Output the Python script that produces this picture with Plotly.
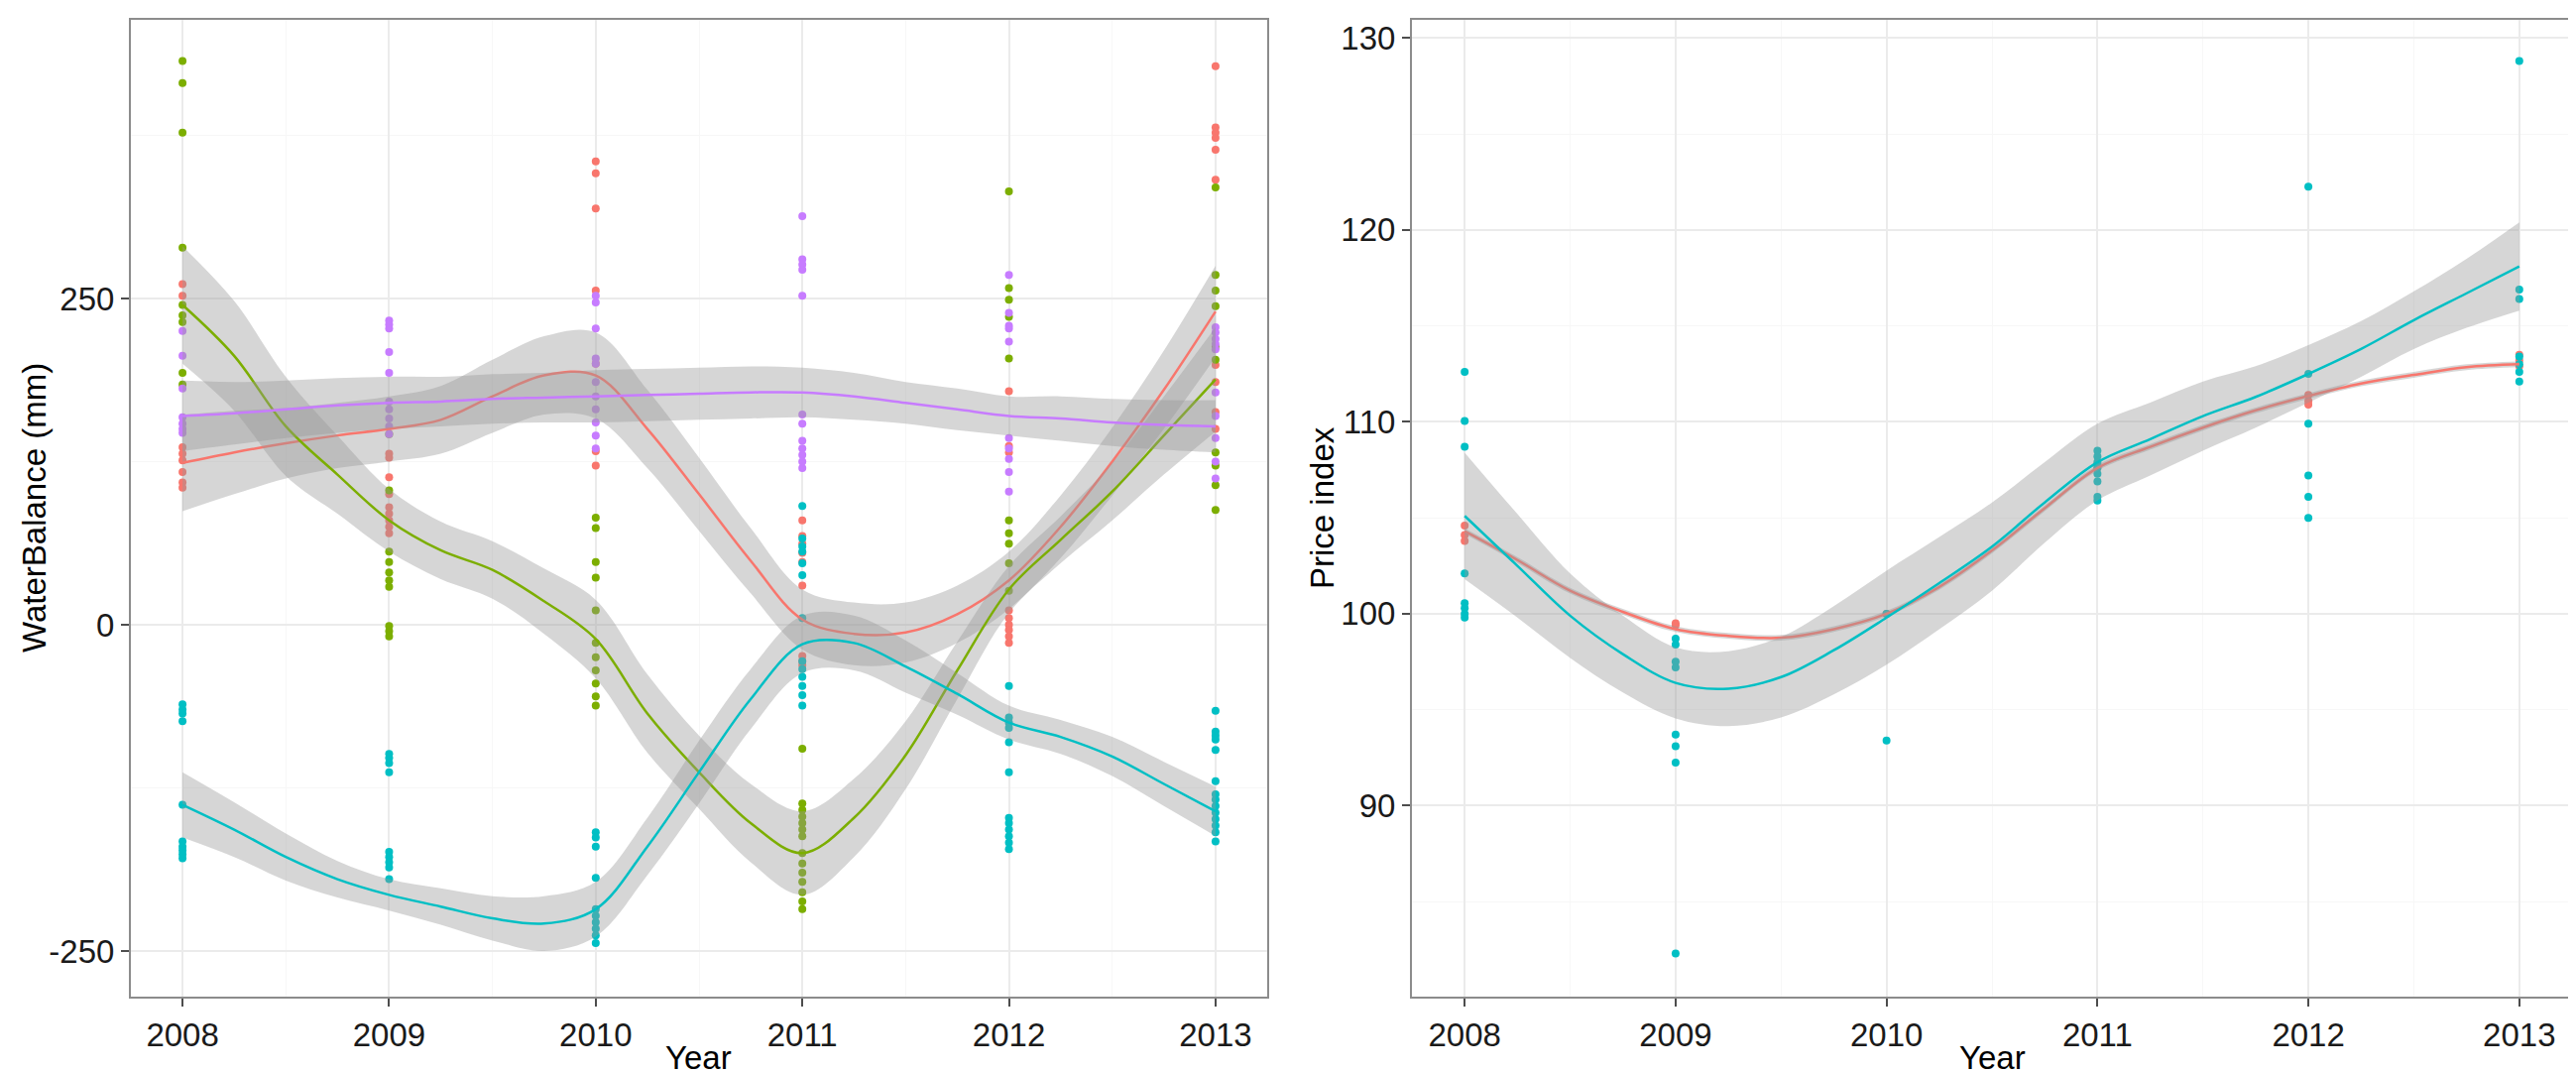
import plotly.graph_objects as go

W, H = 2598, 1081
FONT = "Liberation Sans, Arial, sans-serif"

years = [2008, 2009, 2010, 2011, 2012, 2013]
year_labels = ["2008", "2009", "2010", "2011", "2012", "2013"]

# ---- left panel: water balance observations (mm), one list per year ----
wb_red = [
    [261, 252, 136, 131, 126, 117, 109, 105],
    [131, 128, 113, 100, 90, 85, 80, 75, 70],
    [355, 346, 319, 256, 200, 133, 122],
    [80, 68, 62, 55, 48, 30, -24, -28, -31],
    [179, 137, 132, 11, 5, 0, -4, -9, -14],
    [428, 381, 377, 373, 364, 341, 199, 186, 163, 150],
]
wb_green = [
    [432, 415, 377, 289, 245, 237, 232, 193, 184],
    [146, 103, 56, 48, 40, 34, 29, -1, -5, -9],
    [82, 74, 48, 36, 11, -14, -25, -35, -45, -55, -62],
    [-95, -137, -142, -147, -152, -157, -162, -175, -183, -190, -197, -205, -212, -218],
    [332, 258, 249, 236, 204, 80, 70, 62, 47, 26],
    [335, 268, 256, 244, 213, 203, 132, 122, 107, 88],
]
wb_cyan = [
    [-61, -65, -68, -74, -138, -166, -170, -173, -176, -179],
    [-99, -102, -106, -113, -174, -178, -182, -186, -195],
    [-159, -163, -170, -194, -218, -223, -228, -233, -238, -244],
    [91, 66, 60, 56, 47, 38, 5, -28, -34, -40, -47, -54, -62],
    [-47, -71, -75, -79, -90, -113, -148, -152, -157, -162, -167, -172],
    [-66, -82, -85, -88, -96, -120, -130, -134, -139, -144, -149, -154, -159, -166],
]
wb_purple = [
    [225, 206, 181, 159, 154, 150, 147],
    [233, 230, 227, 209, 193, 171, 165, 158, 152, 146],
    [252, 247, 227, 204, 200, 186, 175, 165, 155, 145, 135],
    [313, 280, 276, 272, 252, 161, 154, 141, 135, 130, 125, 120],
    [268, 239, 229, 227, 217, 143, 135, 127, 117, 102],
    [228, 224, 219, 215, 211, 178, 160, 143, 125, 112],
]

# loess fits (value, lower, upper)
smooth_x = [2008, 2008.25, 2008.5, 2008.75, 2009, 2009.25, 2009.5, 2009.75, 2010, 2010.25,
            2010.5, 2010.75, 2011, 2011.25, 2011.5, 2011.75, 2012, 2012.25, 2012.5, 2012.75, 2013]

wb_red_fit = [124, 132, 139, 145, 150, 157, 175, 191, 191, 150, 100, 49, 4, -7, -6, 8, 34, 75, 125, 180, 240]
wb_red_lo = [87, 100, 112, 120, 125, 131, 147, 161, 158, 120, 72, 24, -19, -31, -29, -14, 12, 51, 99, 150, 205]
wb_red_hi = [161, 164, 166, 170, 175, 183, 203, 221, 224, 180, 128, 74, 27, 17, 17, 30, 56, 99, 151, 210, 275]

wb_green_fit = [245, 206, 152, 115, 80, 57, 42, 18, -11, -68, -113, -152, -175, -148, -100, -35, 27, 65, 102, 145, 188]
wb_green_lo = [200, 164, 114, 85, 56, 35, 20, -7, -41, -98, -141, -182, -207, -178, -126, -57, 9, 47, 80, 115, 148]
wb_green_hi = [290, 248, 190, 145, 104, 79, 64, 43, 19, -38, -85, -122, -143, -118, -74, -13, 45, 83, 124, 175, 228]

wb_cyan_fit = [-138, -157, -178, -195, -207, -216, -225, -229, -218, -170, -113, -57, -15, -14, -32, -53, -75, -86, -101, -122, -143]
wb_cyan_lo = [-163, -178, -196, -209, -219, -230, -242, -250, -239, -192, -137, -80, -37, -35, -52, -69, -88, -99, -116, -139, -162]
wb_cyan_hi = [-113, -136, -160, -181, -195, -202, -208, -208, -197, -148, -89, -34, 7, 7, -12, -37, -62, -73, -86, -105, -124]

wb_purple_fit = [160, 162, 165, 168, 170, 171, 173, 174, 175, 176, 177, 178, 178, 175, 170, 165, 160, 158, 155, 153, 152]
wb_purple_lo = [133, 138, 143, 147, 150, 152, 154, 155, 155, 156, 157, 158, 159, 157, 154, 149, 145, 141, 137, 134, 132]
wb_purple_hi = [187, 186, 187, 189, 190, 190, 192, 193, 195, 196, 197, 198, 197, 193, 186, 181, 175, 175, 173, 172, 172]

# ---- right panel: price index ----
pi_red = [
    [104.6, 104.1, 103.8],
    [99.5, 99.4],
    [100.0],
    [107.6, 107.8],
    [111.4, 111.1, 110.9],
    [113.5, 113.2, 112.9],
]
pi_cyan = [
    [112.6, 110.05, 108.7, 102.1, 100.55, 100.3, 100.0, 99.8],
    [98.7, 98.4, 97.5, 97.2, 93.7, 93.1, 92.25, 82.3],
    [100.0, 93.4],
    [108.5, 108.2, 107.9, 107.6, 107.3, 106.9, 106.1, 105.9],
    [122.25, 112.5, 109.9, 107.2, 106.1, 105.0],
    [128.8, 116.9, 116.4, 113.4, 113.0, 112.6, 112.1],
]

pi_red_fit = [104.3, 102.8, 101.2, 100.1, 99.2, 98.85, 98.75, 99.2, 100.0, 101.4, 103.3,
              105.5, 107.6, 108.7, 109.7, 110.6, 111.35, 112.0, 112.45, 112.85, 113.0]
pi_red_lo = [104.15, 102.65, 101.05, 99.95, 99.05, 98.7, 98.6, 99.05, 99.85, 101.25, 103.15,
             105.35, 107.45, 108.55, 109.55, 110.45, 111.2, 111.85, 112.3, 112.7, 112.85]
pi_red_hi = [104.45, 102.95, 101.35, 100.25, 99.35, 99.0, 98.9, 99.35, 100.15, 101.55, 103.45,
             105.65, 107.75, 108.85, 109.85, 110.75, 111.5, 112.15, 112.6, 113.0, 113.15]

pi_cyan_fit = [105.1, 102.5, 99.9, 97.9, 96.4, 96.1, 96.7, 98.1, 99.8, 101.6, 103.5,
               105.8, 107.9, 109.1, 110.3, 111.3, 112.5, 113.8, 115.3, 116.7, 118.1]
pi_cyan_lo = [101.8, 99.8, 97.7, 95.9, 94.55, 94.15, 94.6, 95.8, 97.35, 99.2, 101.2,
              103.7, 105.9, 107.2, 108.5, 109.7, 111.0, 112.35, 113.8, 114.9, 115.8]
pi_cyan_hi = [108.4, 105.2, 102.1, 99.9, 98.25, 98.05, 98.8, 100.4, 102.25, 104.0, 105.8,
              107.9, 109.9, 111.0, 112.1, 112.9, 114.0, 115.25, 116.8, 118.5, 120.4]

RED, GREEN, CYAN, PURPLE = "#F8766D", "#7CAE00", "#00BFC4", "#C77CFF"
BAND = "rgba(153,153,153,0.4)"

fig = go.Figure()


def add_points(groups, color, xa, ya):
    xs, ys = [], []
    for yr, vals in zip(years, groups):
        xs += [yr] * len(vals)
        ys += vals
    fig.add_trace(go.Scatter(x=xs, y=ys, mode="markers", xaxis=xa, yaxis=ya,
                             marker=dict(color=color, size=8, line=dict(width=0)),
                             hoverinfo="skip"))


def add_smooth(fit, lo, hi, color, xa, ya):
    fig.add_trace(go.Scatter(x=smooth_x, y=lo, mode="lines", xaxis=xa, yaxis=ya,
                             line=dict(width=0, shape="spline"), hoverinfo="skip"))
    fig.add_trace(go.Scatter(x=smooth_x, y=hi, mode="lines", xaxis=xa, yaxis=ya,
                             line=dict(width=0, shape="spline"), fill="tonexty",
                             fillcolor=BAND, hoverinfo="skip"))
    fig.add_trace(go.Scatter(x=smooth_x, y=fit, mode="lines", xaxis=xa, yaxis=ya,
                             line=dict(color=color, width=2.5, shape="spline"),
                             hoverinfo="skip"))


# points first, smooths on top (like geom_point + geom_smooth)
add_points(wb_red, RED, "x", "y")
add_points(wb_green, GREEN, "x", "y")
add_points(wb_cyan, CYAN, "x", "y")
add_points(wb_purple, PURPLE, "x", "y")
add_smooth(wb_red_fit, wb_red_lo, wb_red_hi, RED, "x", "y")
add_smooth(wb_green_fit, wb_green_lo, wb_green_hi, GREEN, "x", "y")
add_smooth(wb_cyan_fit, wb_cyan_lo, wb_cyan_hi, CYAN, "x", "y")
add_smooth(wb_purple_fit, wb_purple_lo, wb_purple_hi, PURPLE, "x", "y")

add_points(pi_red, RED, "x2", "y2")
add_points(pi_cyan, CYAN, "x2", "y2")
add_smooth(pi_red_fit, pi_red_lo, pi_red_hi, RED, "x2", "y2")
add_smooth(pi_cyan_fit, pi_cyan_lo, pi_cyan_hi, CYAN, "x2", "y2")

axis_style = dict(
    showline=True, linecolor="#8c8c8c", linewidth=2, mirror=True,
    ticks="outside", ticklen=8, tickwidth=2, tickcolor="#4d4d4d",
    showgrid=True, gridcolor="#ebebeb", gridwidth=1.5, zeroline=False,
    tickfont=dict(family=FONT, size=33, color="#1a1a1a"),
)

x_style = dict(axis_style, range=[2007.75, 2013.25], tickmode="array",
               tickvals=years, ticktext=year_labels,
               minor=dict(tickmode="linear", tick0=2007.5, dtick=1, showgrid=True,
                          gridcolor="#f7f7f7", gridwidth=1, ticks=""))

y_top = (H - 12) / H
y_bot = (H - 997) / H

fig.update_layout(
    width=W, height=H,
    margin=dict(l=0, r=0, t=0, b=0),
    paper_bgcolor="white", plot_bgcolor="white",
    showlegend=False,
    xaxis=dict(x_style, domain=[124 / W, 1270 / W], anchor="y"),
    yaxis=dict(axis_style, domain=[y_bot, y_top], anchor="x", range=[-285, 463.5],
               tickmode="array", tickvals=[-250, 0, 250], ticktext=["-250", "0", "250"],
               minor=dict(tickmode="linear", tick0=-125, dtick=250, showgrid=True,
                          gridcolor="#f7f7f7", gridwidth=1, ticks="")),
    xaxis2=dict(x_style, domain=[1416 / W, 2586 / W], anchor="y2"),
    yaxis2=dict(axis_style, domain=[y_bot, y_top], anchor="x2", range=[80.05, 130.95],
                tickmode="array", tickvals=[90, 100, 110, 120, 130],
                ticktext=["90", "100", "110", "120", "130"],
                minor=dict(tickmode="linear", tick0=85, dtick=10, showgrid=True,
                           gridcolor="#f7f7f7", gridwidth=1, ticks="")),
)

title_font = dict(family=FONT, size=33, color="black")
mid_y = (H - 504) / H
fig.add_annotation(text="WaterBalance (mm)", x=27 / W, y=mid_y, xref="paper", yref="paper",
                   textangle=-90, showarrow=False, font=title_font,
                   xanchor="center", yanchor="middle")
fig.add_annotation(text="Price index", x=1326 / W, y=mid_y, xref="paper", yref="paper",
                   textangle=-90, showarrow=False, font=title_font,
                   xanchor="center", yanchor="middle")
fig.add_annotation(text="Year", x=697 / W, y=(H - 1058) / H, xref="paper", yref="paper",
                   showarrow=False, font=title_font, xanchor="center", yanchor="middle")
fig.add_annotation(text="Year", x=2001 / W, y=(H - 1058) / H, xref="paper", yref="paper",
                   showarrow=False, font=title_font, xanchor="center", yanchor="middle")

fig.write_html("out.html")
